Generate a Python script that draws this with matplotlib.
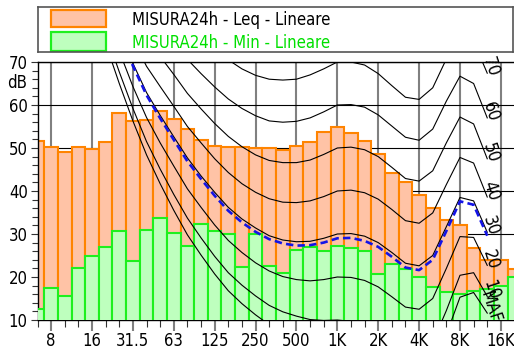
import matplotlib
matplotlib.use("Agg")
import matplotlib.pyplot as plt
from matplotlib.patches import Rectangle
from matplotlib.ticker import FixedLocator, MultipleLocator

# narrow lettering like the original (condensed face if one is installed)
plt.rcParams['font.family'] = ['DejaVu Sans']
plt.rcParams['font.stretch'] = 'condensed'

# ---  DATA  --- #
# 1/3 octave bands, 6.3 Hz .. 20 kHz (drawn on a band index axis)
Bands = ["6.3", "8", "10", "12.5", "16", "20", "25", "31.5", "40", "50",
         "63", "80", "100", "125", "160", "200", "250", "315", "400", "500",
         "630", "800", "1K", "1.25K", "1.6K", "2K", "2.5K", "3.15K", "4K",
         "5K", "6.3K", "8K", "10K", "12.5K", "16K", "20K"]
Octave_labels = ["8", "16", "31.5", "63", "125", "250", "500", "1K", "2K",
                 "4K", "8K", "16K"]

Leq = [51.7, 50.3, 49.1, 50.2, 49.8, 51.5, 58.1, 56.3, 56.5, 58.5,
       56.8, 54.4, 51.9, 50.4, 50.2, 50.2, 50.1, 49.9, 49.5, 50.4,
       51.4, 53.7, 55.0, 53.6, 51.7, 48.5, 44.3, 42.1, 39.1, 36.1,
       33.3, 32.2, 26.7, 24.0, 24.0, 21.8]
Min = [12.6, 17.5, 15.6, 22.1, 24.9, 27.0, 30.8, 23.7, 31.0, 33.8,
       30.3, 27.2, 32.3, 30.6, 30.1, 22.3, 29.9, 22.6, 21.0, 26.2,
       26.9, 26.0, 27.2, 26.7, 26.0, 20.8, 23.1, 21.9, 19.9, 17.6,
       16.4, 16.1, 16.7, 17.1, 18.0, 20.1]

# Equal loudness contours (ISO 226:1987 shape), 20 Hz .. 12.5 kHz
Contour_bands = Bands[5:34]
Contour_MAF = [74.3, 65.0, 56.3, 48.4, 41.7, 35.5, 29.8, 25.1, 20.7, 16.8,
               13.8, 11.2, 8.9, 7.2, 6.0, 5.0, 4.4, 4.2, 3.7, 2.6, 1.0, -1.2,
               -3.6, -3.9, -1.1, 6.6, 15.3, 16.4, 11.6]
Contour_10 = [76.8, 67.7, 59.2, 51.5, 45.1, 39.2, 33.7, 29.1, 24.8, 21.0,
              18.1, 15.6, 13.4, 11.9, 10.9, 10.1, 9.9, 10.0, 9.7, 8.7, 7.2,
              5.0, 2.6, 2.2, 4.8, 12.2, 20.4, 21.0, 15.5]
Contour_20 = [81.3, 72.5, 64.3, 57.1, 51.2, 45.8, 40.5, 36.2, 32.1, 28.5,
              25.7, 23.3, 21.4, 20.1, 19.4, 19.1, 19.4, 20.0, 19.9, 19.2, 17.7,
              15.4, 13.0, 12.5, 15.0, 22.0, 29.4, 29.2, 22.7]
Contour_30 = [86.0, 77.6, 69.7, 62.9, 57.6, 52.6, 47.7, 43.5, 39.7, 36.2,
              33.5, 31.4, 29.6, 28.6, 28.2, 28.3, 29.0, 30.0, 30.1, 29.5, 28.0,
              25.7, 23.2, 22.6, 25.0, 31.7, 38.5, 37.7, 30.4]
Contour_40 = [91.0, 82.9, 75.4, 69.0, 64.3, 59.7, 55.0, 51.2, 47.5, 44.3,
              41.7, 39.7, 38.2, 37.4, 37.3, 37.7, 38.7, 40.0, 40.2, 39.6, 38.1,
              35.7, 33.1, 32.5, 34.9, 41.5, 47.8, 46.5, 38.6]
Contour_50 = [96.2, 88.5, 81.3, 75.4, 71.3, 67.1, 62.7, 59.1, 55.7, 52.7,
              50.3, 48.4, 47.1, 46.6, 46.6, 47.2, 48.5, 50.0, 50.2, 49.6, 48.0,
              45.5, 42.9, 42.3, 44.7, 51.2, 57.2, 55.6, 47.5]
Contour_60 = [101.7, 94.4, 87.6, 82.1, 78.6, 74.8, 70.6, 67.3, 64.2, 61.4,
              59.2, 57.5, 56.3, 56.0, 56.2, 57.0, 58.4, 60.0, 60.1, 59.5, 57.7,
              55.1, 52.5, 51.8, 54.4, 60.9, 66.7, 65.0, 57.0]
Contour_70 = [107.6, 100.7, 94.3, 89.2, 86.4, 82.8, 78.8, 75.8, 73.0, 70.5,
              68.4, 66.9, 66.0, 65.8, 66.0, 67.0, 68.4, 70.0, 70.0, 69.3, 67.3,
              64.5, 61.8, 61.3, 64.0, 70.7, 76.4, 74.8, 67.4]
# loudness level curve of the measurement (dashed blue)
Loudness_curve = [85.5, 77.0, 69.1, 62.3, 56.9, 51.9, 46.9, 42.8, 38.9, 35.4,
                  32.7, 30.5, 28.8, 27.8, 27.3, 27.4, 28.0, 29.0, 29.1, 28.4,
                  27.0, 24.7, 22.2, 21.6, 24.0, 30.7, 37.6, 36.8, 29.6]

Contours = [("MAF", Contour_MAF), ("10", Contour_10), ("20", Contour_20),
            ("30", Contour_30), ("40", Contour_40), ("50", Contour_50),
            ("60", Contour_60), ("70", Contour_70)]

Legend_names = ["MISURA24h - Leq - Lineare", "MISURA24h - Min - Lineare"]

# ---  COLOURS  --- #
Leq_fill, Leq_edge = "#FFC3A6", "#FF8400"
Min_fill, Min_edge = "#BEFFBE", "#1EF01E"

# ---  FIGURE  --- #
fig = plt.figure(figsize=(5.14, 3.52), dpi=100)
ax = fig.add_axes([37.5 / 514, 32 / 352, 477 / 514, 258 / 352])

x_all = list(range(len(Bands)))
x_oct = [Bands.index(b) for b in Octave_labels]
x_cont = [Bands.index(b) for b in Contour_bands]

ax.bar(x_all, Leq, width=1.0, color=Leq_fill, edgecolor=Leq_edge,
       linewidth=1.5, zorder=2)
ax.bar(x_all, Min, width=1.0, color=Min_fill, edgecolor=Min_edge,
       linewidth=1.5, zorder=3)

for name, vals in Contours:
    ax.plot(x_cont, vals, color="black", lw=0.8, zorder=4)
    # phon label just past the 12.5 kHz end of each curve
    ax.text(x_cont[-1] + 0.25, vals[-1] + 1.4, name, rotation=-72,
            rotation_mode="anchor", ha="center", va="center",
            fontsize=12.5, zorder=6)

ax.plot(x_cont, Loudness_curve, color="#1414E6", lw=1.9,
        dashes=(2.8, 1.6), zorder=5)

ax.set_xlim(0, len(Bands) - 1)
ax.set_ylim(10, 70)

# ticks & grid
ax.xaxis.set_major_locator(FixedLocator(x_oct))
ax.xaxis.set_minor_locator(FixedLocator(x_all))
ax.set_xticklabels(Octave_labels)
ax.yaxis.set_major_locator(MultipleLocator(10))
ax.yaxis.set_minor_locator(MultipleLocator(2))

ax.set_axisbelow(True)
ax.grid(axis="x", which="major", color="#808080", lw=1.5)
ax.grid(axis="y", which="major", color="black", lw=0.8)

ax.tick_params(axis="x", which="major", length=8, width=1.5,
               color="#808080", pad=1, labelsize=12)
ax.tick_params(axis="x", which="minor", length=5, width=0.8,
               color="#333333")
ax.tick_params(axis="y", which="major", length=5, width=0.8,
               color="#333333", pad=2, labelsize=12)
ax.tick_params(axis="y", which="minor", length=4, width=0.8,
               color="#333333")

for s in ["left", "bottom", "top"]:
    ax.spines[s].set_color("black")
    ax.spines[s].set_linewidth(1.0)
ax.spines["right"].set_visible(False)

ax.text(-0.022, 65.2, "dB", transform=ax.get_yaxis_transform(),
        ha="right", va="center", fontsize=12)

# ---  LEGEND BOX  --- #
lax = fig.add_axes([37.7 / 514, (352 - 52.3) / 352, 475.3 / 514, 45.6 / 352])
lax.set_xlim(0, 475.3)
lax.set_ylim(45.6, 0)
lax.set_xticks([])
lax.set_yticks([])
for s in lax.spines.values():
    s.set_color("#555555")
    s.set_linewidth(1.2)

lax.add_patch(Rectangle((13.3, 3.3), 55, 16.7, facecolor=Leq_fill,
                        edgecolor=Leq_edge, lw=1.6))
lax.add_patch(Rectangle((13.3, 25.6), 55, 18.3, facecolor=Min_fill,
                        edgecolor=Min_edge, lw=1.6))
lax.text(94.3, 13.0, Legend_names[0], ha="left", va="center",
         fontsize=12, color="black")
lax.text(94.3, 36.0, Legend_names[1], ha="left", va="center",
         fontsize=12, color="#00E000")

fig.savefig("out.png", dpi=100)
